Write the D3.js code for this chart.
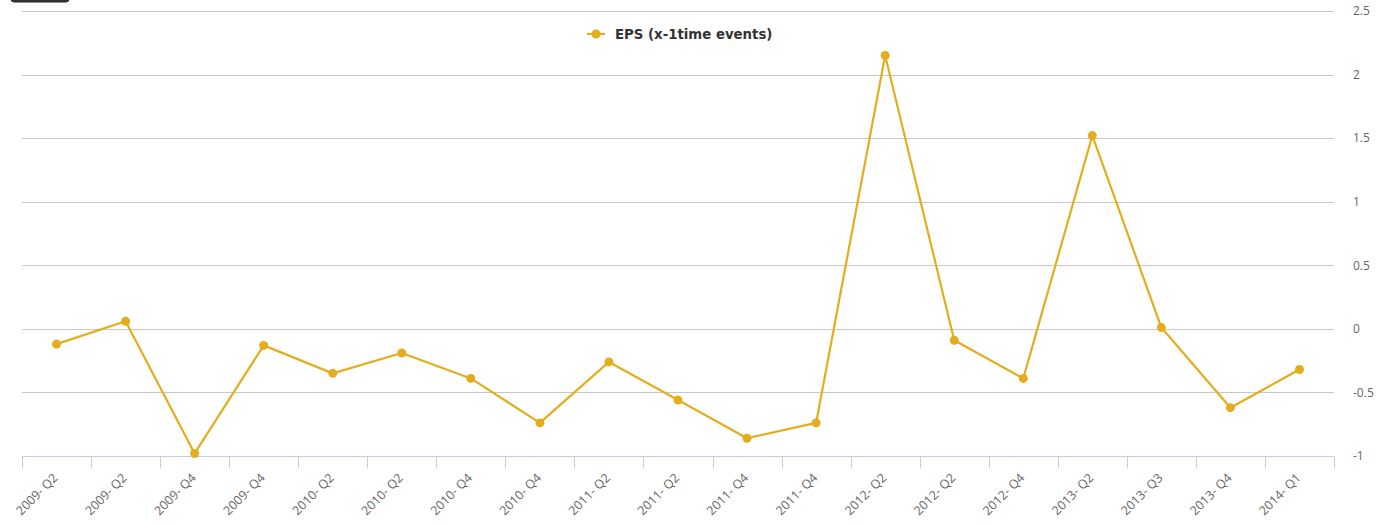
<!DOCTYPE html>
<html><head><meta charset="utf-8">
<script src="https://cdn.jsdelivr.net/npm/d3@7"></script>
<style>body{margin:0;background:#fff;}svg{display:block;font-family:"Open Sans",sans-serif;}</style>
</head><body>
<svg id="c" width="1396" height="526"></svg>
<script>
const categories = ["2009- Q2","2009- Q2","2009- Q4","2009- Q4","2010- Q2","2010- Q2","2010- Q4","2010- Q4","2011- Q2","2011- Q2","2011- Q4","2011- Q4","2012- Q2","2012- Q2","2012- Q4","2013- Q2","2013- Q3","2013- Q4","2014- Q1"];
const eps = [-0.12,0.06,-0.98,-0.13,-0.35,-0.19,-0.39,-0.74,-0.26,-0.56,-0.86,-0.74,2.15,-0.09,-0.39,1.52,0.01,-0.62,-0.32];
const yTicks = [-1,-0.5,0,0.5,1,1.5,2,2.5];
const seriesName = "EPS (x-1time events)";
const color = "#e3ad1e";

const svg = d3.select("#c");
const L = 22, R = 1334, T = 11, B = 456;
const x = d3.scaleBand().domain(d3.range(categories.length)).range([L, R]);
const y = d3.scaleLinear().domain([-1, 2.5]).range([B, T]);

// top-left button fragment
svg.append("rect").attr("x", 11).attr("y", -10).attr("width", 58).attr("height", 12).attr("rx", 3)
  .attr("fill", "#333").attr("stroke", "#222");

// gridlines
svg.append("g").selectAll("line").data(yTicks.filter(d => d !== -1)).join("line")
  .attr("x1", L).attr("x2", R).attr("y1", d => Math.round(y(d)) + 0.5).attr("y2", d => Math.round(y(d)) + 0.5)
  .attr("stroke", "#c8c8c8").attr("stroke-width", 1);

// y axis labels on right
const yAxis = d3.axisRight(y).tickValues(yTicks).tickSize(0).tickPadding(0)
  .tickFormat(d => String(d));
const gy = svg.append("g").attr("transform", `translate(1353,0)`).call(yAxis);
gy.select(".domain").remove();
gy.selectAll("text").attr("fill", "#666").attr("font-size", 12).attr("font-family", "Open Sans, sans-serif")
  .attr("dy", "0.32em").attr("x", 0).attr("text-anchor", "start");

// x axis
const gx = svg.append("g").attr("transform", `translate(0,${B + 0.5})`);
gx.append("line").attr("x1", L).attr("x2", R + 0.5).attr("stroke", "#c0d0e0");
gx.selectAll("line.tk").data(d3.range(categories.length + 1)).join("line").attr("class", "tk")
  .attr("x1", i => Math.round(L + i * x.step()) + 0.5).attr("x2", i => Math.round(L + i * x.step()) + 0.5)
  .attr("y1", 0).attr("y2", 12).attr("stroke", "#c0d0e0");
gx.selectAll("text").data(categories).join("text")
  .attr("transform", (d, i) => `translate(${x(i) + x.bandwidth() / 2 - 1},${19}) rotate(-45)`)
  .attr("text-anchor", "end").attr("fill", "#666").attr("font-size", 12.5).attr("dy", "0.35em")
  .text(d => d);

// line
const line = d3.line().x((d, i) => x(i) + x.bandwidth() / 2).y(d => y(d));
svg.append("path").datum(eps).attr("d", line).attr("fill", "none").attr("stroke", color).attr("stroke-width", 2.2)
  .attr("stroke-linejoin", "round");
svg.append("g").selectAll("circle").data(eps).join("circle")
  .attr("cx", (d, i) => x(i) + x.bandwidth() / 2).attr("cy", d => y(d)).attr("r", 4.5).attr("fill", color);

// legend
const lg = svg.append("g").attr("transform", "translate(587,34)");
lg.append("line").attr("x1", 0).attr("x2", 18).attr("stroke", color).attr("stroke-width", 2.2);
lg.append("circle").attr("cx", 9).attr("r", 4.5).attr("fill", color);
lg.append("text").attr("x", 28).attr("dy", "0.35em").attr("font-size", 13.3).attr("font-weight", "bold")
  .attr("font-family", "DejaVu Sans, sans-serif").attr("fill", "#333").text(seriesName);
</script>
</body></html>
